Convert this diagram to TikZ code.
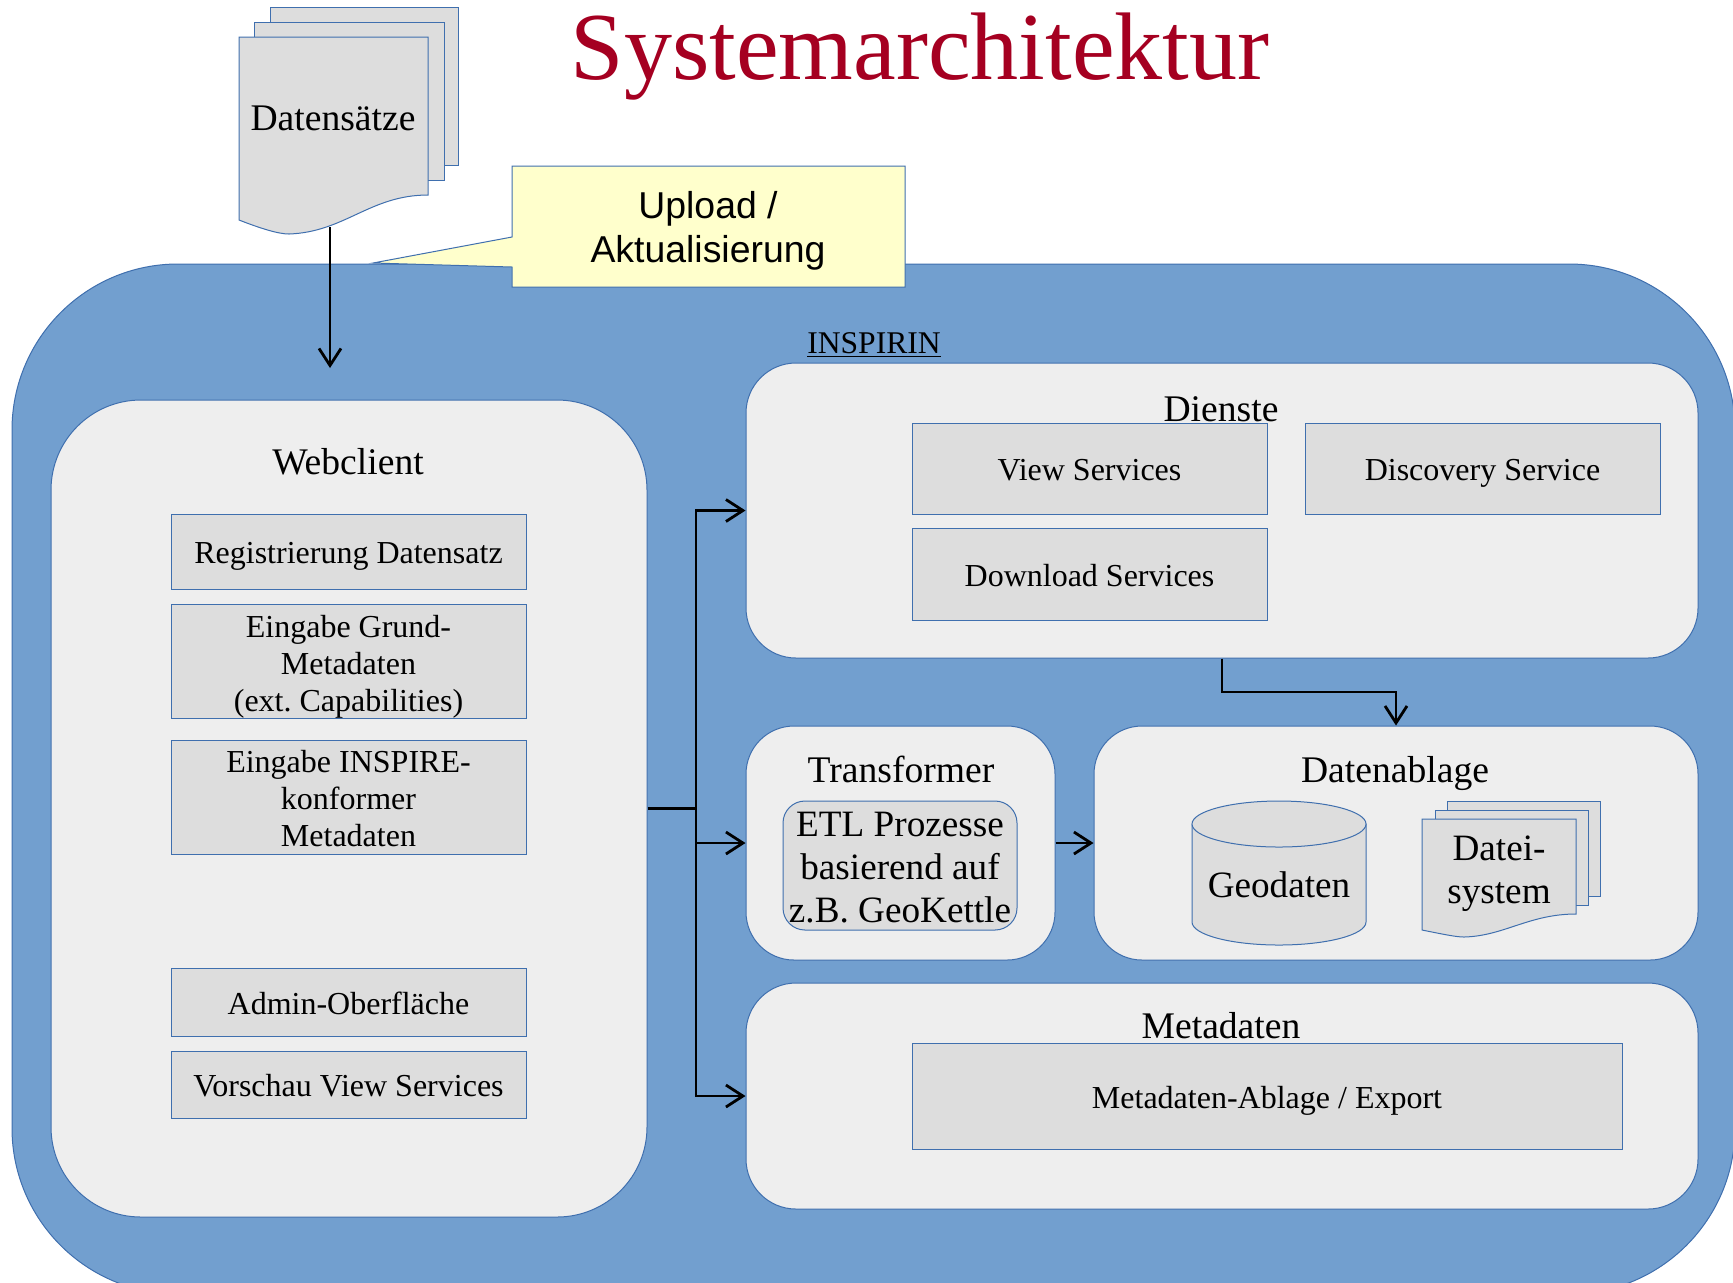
\documentclass[tikz,border=0pt]{standalone}
\usepackage{fontspec}
\setmainfont{Liberation Serif}
\newfontfamily\calloutfont{Liberation Sans}
\usetikzlibrary{arrows.meta}
\definecolor{bluebg}{HTML}{729FCF}
\definecolor{panelfill}{HTML}{EEEEEE}
\definecolor{boxfill}{HTML}{DDDDDD}
\definecolor{edgeblue}{HTML}{3F6FAE}
\definecolor{titlered}{HTML}{A50021}
\definecolor{calloutfill}{HTML}{FFFFCC}
\tikzset{
  outerpanel/.style={draw=edgeblue,fill=bluebg,line width=0.5pt,rounded corners=83pt,inner sep=0pt},
  panel/.style={draw=edgeblue,fill=panelfill,line width=0.5pt,inner sep=0pt},
  greybox/.style={draw=edgeblue,fill=boxfill,line width=0.5pt,inner sep=0pt,align=center,font=\fontsize{16}{18.5}\selectfont,text height=13pt,text depth=1pt},
  etlbox/.style={draw=edgeblue,fill=boxfill,line width=0.5pt,inner sep=0pt,rounded corners=11pt},
  sheet/.style={draw=edgeblue,fill=boxfill,line width=0.5pt},
  label/.style={inner sep=0pt,align=center,font=\fontsize{18.8}{21}\selectfont},
  smalllabel/.style={inner sep=0pt,align=center,font=\fontsize{16}{18.5}\selectfont},
  biglabel/.style={inner sep=0pt,align=center,font=\fontsize{18.6}{21.5}\selectfont},
  conn/.style={draw=black,line width=1.4pt,-{Straight Barb[length=8.5pt,width=11pt,line width=1.4pt]}},
  connplain/.style={draw=black,line width=1.4pt},
}
% style, name, x0, y0, x1, y1, text
\newcommand\pbox[7]{%
  \pgfmathsetmacro\pw{(#5-#3)*0.5}%
  \pgfmathsetmacro\ph{(#6-#4)*0.5}%
  \pgfmathsetmacro\pcx{(#3+#5)/2}%
  \pgfmathsetmacro\pcy{(#4+#6)/2}%
  \node[#1,minimum width=\pw pt,minimum height=\ph pt] (#2) at (\pcx,\pcy) {#7};%
}
\begin{document}
\frenchspacing
\begin{tikzpicture}[x=0.5pt,y=-0.5pt]
\useasboundingbox (0,0) rectangle (1733,1282);
\clip (0,0) rectangle (1733,1282);
\fill[white] (0,0) rectangle (1733,1282);

% outer panel
\pbox{outerpanel}{inspirin}{12}{264}{1735}{1294}{}

% title
\node[inner sep=0pt,text=titlered,font=\fontsize{48}{50}\selectfont] (title) at (920,57) {Systemarchitektur};

% Datensaetze stack
\draw[sheet] (270,7) rectangle (458,165);
\draw[sheet] (254,22) rectangle (444,180);
\draw[sheet] (239,37) -- (428,37) -- (428,195)
  .. controls (370,195) and (345,232) .. (289,234)
  .. controls (279,234) and (262,229) .. (239,220) -- cycle;
\node[label] (datensaetze) at (333,118) {Datensätze};
\coordinate (docfoot) at (330,227);
\coordinate (uploadend) at (330,368);

% callout
\draw[draw=edgeblue,fill=calloutfill,line width=0.5pt] (512,166) -- (905,166) -- (905,287) -- (512,287) -- (512,267) -- (373,263) -- (512,237) -- cycle;
\node[inner sep=0pt,align=center,font=\calloutfont\fontsize{18.7}{22}\selectfont] (upload) at (708,231) {Upload /\\Aktualisierung};

\node[inner sep=0pt,font=\fontsize{15.8}{18}\selectfont] (inspirinlabel) at (874,345) {\underline{INSPIRIN}};

% Webclient
\pbox{panel,rounded corners=45pt}{webclient}{51}{400}{647}{1217}{}
\node[label] (webtitle) at (348,462) {Webclient};
\pbox{greybox}{reg}{171}{514}{526}{589}{Registrierung Datensatz}
\pbox{greybox}{grund}{171}{604}{526}{718}{}
\node[smalllabel] (grundtext) at (348.5,666.5) {Eingabe Grund-\\Metadaten\\(ext. Capabilities)};
\pbox{greybox}{inspire}{171}{740}{526}{854}{}
\node[smalllabel] (inspiretext) at (348.5,799) {Eingabe INSPIRE-\\konformer\hspace*{3.3pt}\\Metadaten};
\pbox{greybox}{admin}{171}{968}{526}{1036}{Admin-Oberfläche}
\pbox{greybox}{vorschau}{171}{1051}{526}{1118}{Vorschau View Services}

% Dienste
\pbox{panel,rounded corners=25pt}{dienste}{746}{363}{1698}{658}{}
\node[label] (dienstetitle) at (1221,409) {Dienste};
\pbox{greybox}{view}{912}{423}{1267}{514}{View Services}
\pbox{greybox}{discovery}{1305}{423}{1660}{514}{Discovery Service}
\pbox{greybox}{download}{912}{528}{1267}{620}{Download Services}

% Transformer
\pbox{panel,rounded corners=24pt}{transformer}{746}{726}{1055}{960}{}
\node[label] (transtitle) at (901,769) {Transformer};
\pbox{etlbox}{etl}{783}{801}{1017}{930}{}
\node[biglabel] (etltext) at (900,868) {ETL Prozesse\\basierend auf\\z.B. GeoKettle};

% Datenablage
\pbox{panel,rounded corners=24pt}{datenablage}{1094}{726}{1698}{960}{}
\node[label] (ablagetitle) at (1395,773) {Datenablage};
\draw[sheet] (1192,824) -- (1192,922) arc[start angle=180,end angle=0,x radius=87,y radius=23] -- (1366,824) -- cycle;
\draw[sheet] (1279,824) ellipse[x radius=87,y radius=23];
\node[biglabel] (geodaten) at (1279,885) {Geodaten};
\draw[sheet] (1447,801) rectangle (1600,896);
\draw[sheet] (1435,810) rectangle (1588,905);
\draw[sheet] (1422,819) -- (1576,819) -- (1576,914)
  .. controls (1529,914) and (1504,936) .. (1464,937)
  .. controls (1456,937) and (1442,934) .. (1422,930) -- cycle;
\node[biglabel] (dateisystem) at (1499,874) {Datei-\\system};

% Metadaten
\pbox{panel,rounded corners=25pt}{metadaten}{746}{983}{1698}{1209}{}
\node[label] (metatitle) at (1221,1026) {Metadaten};
\pbox{greybox}{ablage}{912}{1043}{1622}{1149}{Metadaten-Ablage / Export}

% connectors
\coordinate (trunk) at (696,808.5);
\coordinate (dienstedrop) at (1222,692);
\draw[conn] (docfoot) -- (uploadend);
\draw[connplain] (webclient.east) -- (trunk);
\draw[conn] (trunk) |- (dienste.west);
\draw[conn] (trunk) |- (metadaten.west);
\draw[conn] (trunk |- transformer.west) -- (transformer.west);
\draw[conn] (transformer.east) -- (transformer.east -| datenablage.west);
\draw[conn] (dienste.south) -- (dienstedrop) -| (datenablage.north);
\end{tikzpicture}
\end{document}
